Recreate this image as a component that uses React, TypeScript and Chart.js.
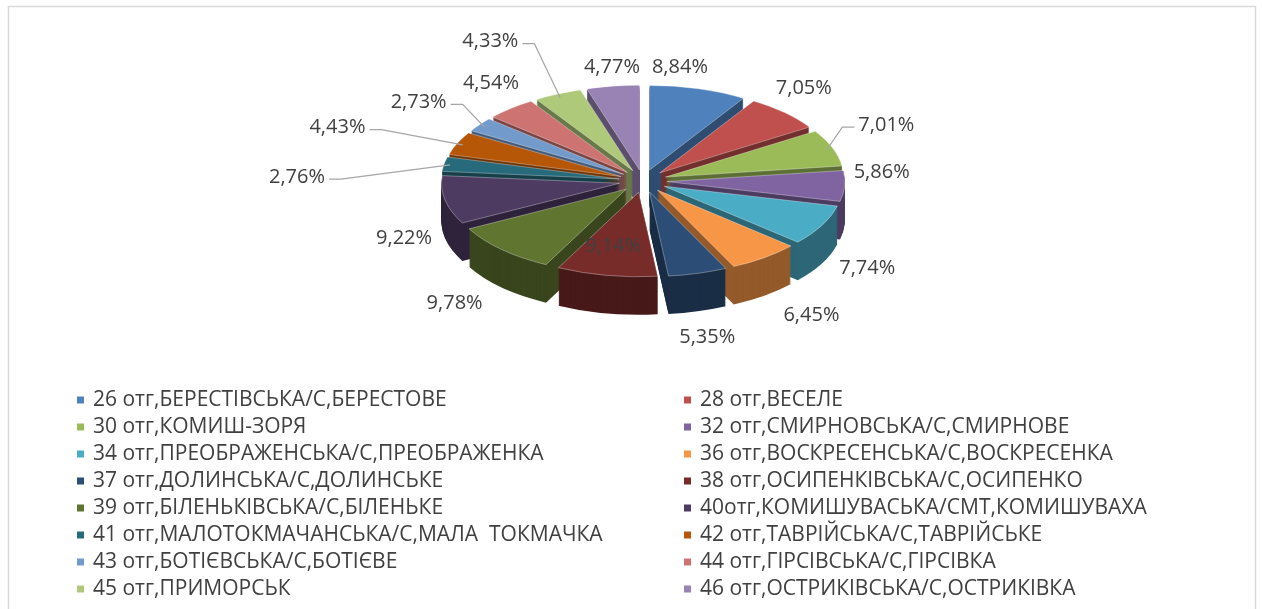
import React, { useEffect, useRef } from 'react';
import { Chart, registerables } from 'chart.js';

Chart.register(...registerables);

// ---------------- DATA ----------------
const categories: string[] = [
  '26 отг,БЕРЕСТІВСЬКА/С,БЕРЕСТОВЕ',
  '28 отг,ВЕСЕЛЕ',
  '30 отг,КОМИШ-ЗОРЯ',
  '32 отг,СМИРНОВСЬКА/С,СМИРНОВЕ',
  '34 отг,ПРЕОБРАЖЕНСЬКА/С,ПРЕОБРАЖЕНКА',
  '36 отг,ВОСКРЕСЕНСЬКА/С,ВОСКРЕСЕНКА',
  '37 отг,ДОЛИНСЬКА/С,ДОЛИНСЬКЕ',
  '38 отг,ОСИПЕНКІВСЬКА/С,ОСИПЕНКО',
  '39 отг,БІЛЕНЬКІВСЬКА/С,БІЛЕНЬКЕ',
  '40отг,КОМИШУВАСЬКА/СМТ,КОМИШУВАХА',
  '41 отг,МАЛОТОКМАЧАНСЬКА/С,МАЛА  ТОКМАЧКА',
  '42 отг,ТАВРІЙСЬКА/С,ТАВРІЙСЬКЕ',
  '43 отг,БОТІЄВСЬКА/С,БОТІЄВЕ',
  '44 отг,ГІРСІВСЬКА/С,ГІРСІВКА',
  '45 отг,ПРИМОРСЬК',
  '46 отг,ОСТРИКІВСЬКА/С,ОСТРИКІВКА',
];

const shares: number[] = [
  8.84, 7.05, 7.01, 5.86, 7.74, 6.45, 5.35, 9.14,
  9.78, 9.22, 2.76, 4.43, 2.73, 4.54, 4.33, 4.77,
];

// ---------------- STYLE / LAYOUT ----------------
const COLORS: string[] = [
  '#4F81BD', '#C0504D', '#9BBB59', '#8064A2', '#4BACC6', '#F79646',
  '#2C4D75', '#772C2A', '#5F7530', '#4D3B62', '#276A7C', '#B65708',
  '#729ACA', '#CD7371', '#AFC97A', '#9983B5',
];

const CX = 643;
const CY = 181;
const TILT = 0.475;
const DEPTH = 38;
const RADIUS = 178;
const EXPLODE = 24;
const FONT = '"Open Sans", "DejaVu Sans", sans-serif';
const TEXT = '#404040';

// label nudges relative to the computed anchor (layout only)
const LABEL_NUDGE: [number, number][] = [
  [-33, 0], [-18, -8], [4, -15], [-16, -17], [-2, 15], [15, 9], [-5, 6], [-8, 9],
  [-10, 10], [11, 26], [-95, 17], [-71, -7], [-18, -9], [15, -8], [-45, -32], [7, 3],
];
const LEADER: boolean[] = [
  false, false, true, false, false, false, false, false,
  false, false, true, true, true, false, true, false,
];
const INSIDE: boolean[] = [
  false, false, false, false, false, false, false, true,
  false, false, false, false, false, false, false, false,
];

function shade(hex: string, f: number): string {
  const n = parseInt(hex.slice(1), 16);
  const r = Math.round(((n >> 16) & 255) * f);
  const g = Math.round(((n >> 8) & 255) * f);
  const b = Math.round((n & 255) * f);
  return `rgb(${r},${g},${b})`;
}

function fmt(v: number, total: number): string {
  return ((v / total) * 100).toFixed(2).replace('.', ',') + '%';
}

const pie3d = {
  id: 'pie3d',
  beforeDatasetsDraw(chart: any) {
    const ctx: CanvasRenderingContext2D = chart.ctx;
    const meta = chart.getDatasetMeta(0);
    const items = meta.data.map((a: any, i: number) => ({ a, i }));
    const midOf = (a: any) => (a.startAngle + a.endAngle) / 2;
    items.sort((p: any, q: any) => Math.sin(midOf(p.a)) - Math.sin(midOf(q.a)));
    ctx.save();
    ctx.translate(0, CY);
    ctx.scale(1, TILT);
    ctx.translate(0, -CY);
    for (const { a, i } of items) {
      const m = midOf(a);
      const dx = Math.cos(m) * EXPLODE;
      const dy = Math.sin(m) * EXPLODE;
      ctx.save();
      ctx.translate(dx, dy);
      ctx.fillStyle = shade(COLORS[i], 0.6);
      for (let k = DEPTH; k >= 1; k -= 1) {
        const oy = k / TILT;
        ctx.beginPath();
        ctx.moveTo(a.x, a.y + oy);
        ctx.arc(a.x, a.y + oy, a.outerRadius, a.startAngle, a.endAngle);
        ctx.closePath();
        ctx.fill();
      }
      a.draw(ctx);
      ctx.restore();
    }
    ctx.restore();
    return false;
  },
  afterDraw(chart: any) {
    const ctx: CanvasRenderingContext2D = chart.ctx;
    // frame
    ctx.save();
    ctx.strokeStyle = '#d9d9d9';
    ctx.lineWidth = 1.5;
    ctx.strokeRect(8.5, 6.5, 1247, 700);
    ctx.restore();

    const meta = chart.getDatasetMeta(0);
    const total = shares.reduce((s, v) => s + v, 0);
    ctx.save();
    ctx.font = `20px ${FONT}`;
    ctx.textBaseline = 'middle';
    ctx.textAlign = 'center';
    meta.data.forEach((a: any, i: number) => {
      const m = (a.startAngle + a.endAngle) / 2;
      const cm = Math.cos(m);
      const sm = Math.sin(m);
      const rx = a.outerRadius + EXPLODE;
      const ry = rx * TILT;
      const txt = fmt(shares[i], total);
      const w = ctx.measureText(txt).width;
      const h = 20;
      let X: number;
      let Y: number;
      if (INSIDE[i]) {
        X = a.x + 0.6 * rx * cm;
        Y = CY + 0.6 * ry * sm;
      } else {
        X = a.x + (rx + 25) * cm + (w / 2) * cm;
        Y = CY + (ry + 12.5) * sm + (h / 2) * sm + (sm > 0 ? DEPTH * sm : 0);
      }
      X += LABEL_NUDGE[i][0];
      Y += LABEL_NUDGE[i][1];
      ctx.fillStyle = TEXT;
      ctx.fillText(txt, X, Y);
      if (LEADER[i]) {
        const left = cm < 0;
        const sx = left ? X + w / 2 + 4 : X - w / 2 - 4;
        const sy = Y + 2;
        const ex = a.x + (rx - 6) * cm;
        const ey = CY + (ry - 4) * sm;
        ctx.strokeStyle = '#a6a6a6';
        ctx.lineWidth = 1.2;
        ctx.beginPath();
        ctx.moveTo(sx, sy);
        ctx.lineTo(sx + (left ? 12 : -12), sy);
        ctx.lineTo(ex, ey);
        ctx.stroke();
      }
    });
    ctx.restore();

    // legend
    ctx.save();
    ctx.font = `21px ${FONT}`;
    ctx.textBaseline = 'middle';
    ctx.textAlign = 'left';
    categories.forEach((c, i) => {
      const col = i % 2;
      const row = Math.floor(i / 2);
      const tx = col === 0 ? 93 : 700;
      const ty = 400 + row * 27;
      ctx.fillStyle = COLORS[i];
      ctx.fillRect(tx - 16, ty - 3.5, 7, 7);
      ctx.fillStyle = TEXT;
      ctx.fillText(c, tx, ty);
    });
    ctx.restore();
  },
};

export default function App() {
  const ref = useRef<HTMLCanvasElement | null>(null);
  useEffect(() => {
    if (!ref.current) return;
    const chart = new Chart(ref.current, {
      type: 'pie',
      data: {
        labels: categories,
        datasets: [
          {
            data: shares,
            backgroundColor: COLORS,
            borderColor: 'rgba(255,255,255,0.45)',
            borderWidth: 1,
            radius: RADIUS,
          } as any,
        ],
      },
      options: {
        responsive: false,
        animation: false,
        events: [],
        devicePixelRatio: 1,
        layout: {
          padding: { left: CX - 200, right: 1262 - (CX + 200), top: CY - 181, bottom: 609 - (CY + 181) },
        },
        plugins: {
          legend: { display: false },
          tooltip: { enabled: false },
        },
      },
      plugins: [pie3d],
    });
    return () => chart.destroy();
  }, []);
  return (
    <div style={{ position: 'absolute', left: 0, top: 0, width: 1262, height: 609, background: '#fff' }}>
      <canvas ref={ref} width={1262} height={609} style={{ display: 'block' }} />
    </div>
  );
}
